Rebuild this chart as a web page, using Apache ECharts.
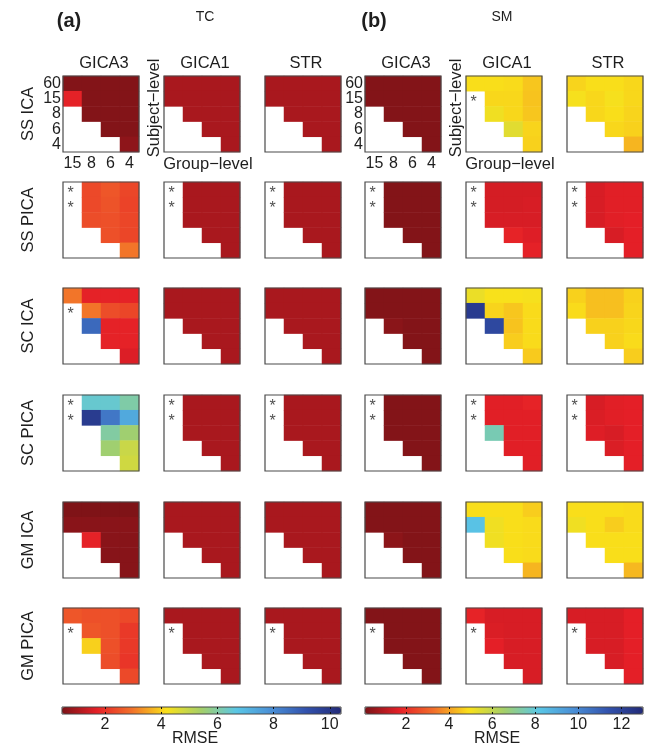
<!DOCTYPE html>
<html><head><meta charset="utf-8">
<script src="https://cdn.jsdelivr.net/npm/echarts@6/dist/echarts.min.js"></script>
<style>html,body{margin:0;padding:0;background:#fff}#c{width:647px;height:748px}</style>
</head><body><div id="c"></div>
<script>
// ---- categories / labels ----
const GROUP_LEVELS = ['15','8','6','4'];
const SUBJECT_LEVELS = ['60','15','8','6','4'];
const ROW_NAMES = ['SS ICA','SS PICA','SC ICA','SC PICA','GM ICA','GM PICA'];
const METHODS = ['GICA3','GICA1','STR'];
const TC_TICKS = [2,4,6,8,10];
const SM_TICKS = [2,4,6,8,10,12];
const TC_RANGE = [0.47, 10.4];
const SM_RANGE = [0.1, 13];
const _ = null, S = '*';   // _ : no cell, S : failed run (asterisk)

// ---- (a) TC RMSE values: rows = subject-level 60,15,8,6,4 ; cols = group-level 15,8,6,4 ----
const TC_SSICA_GICA3 = [[0.55,0.55,0.55,0.55],[1.75,0.55,0.55,0.55],[_,0.55,0.55,0.55],[_,_,0.55,0.55],[_,_,_,0.68]];
const TC_SSICA_GICA1 = [[1.0,1.0,1.0,1.0],[1.0,1.0,1.0,1.0],[_,1.0,1.0,1.0],[_,_,1.0,1.0],[_,_,_,1.0]];
const TC_SSICA_STR   = [[1.0,1.0,1.0,1.0],[1.0,1.0,1.0,1.0],[_,1.0,1.0,1.0],[_,_,1.0,1.0],[_,_,_,1.0]];
const TC_SSPICA_GICA3 = [[S,2.35,2.55,2.3],[S,2.35,2.5,2.25],[_,2.4,2.45,2.3],[_,_,2.45,2.3],[_,_,_,3.0]];
const TC_SSPICA_GICA1 = [[S,1.0,1.0,1.0],[S,1.0,1.0,1.0],[_,1.0,1.0,1.0],[_,_,1.0,1.0],[_,_,_,1.0]];
const TC_SSPICA_STR   = [[S,1.0,1.0,1.0],[S,1.0,1.0,1.0],[_,1.0,1.0,1.0],[_,_,1.0,1.0],[_,_,_,1.0]];
const TC_SCICA_GICA3 = [[3.0,1.75,1.75,1.75],[S,3.0,2.4,2.3],[_,8.7,1.75,1.75],[_,_,1.75,1.75],[_,_,_,1.6]];
const TC_SCICA_GICA1 = [[1.0,1.0,1.0,1.0],[1.0,1.0,1.0,1.0],[_,1.0,1.0,1.0],[_,_,1.0,1.0],[_,_,_,1.0]];
const TC_SCICA_STR   = [[1.0,1.0,1.0,1.0],[1.0,1.0,1.0,1.0],[_,1.0,1.0,1.0],[_,_,1.0,1.0],[_,_,_,1.0]];
const TC_SCPICA_GICA3 = [[S,6.45,6.45,6.05],[S,9.85,8.4,7.35],[_,_,6.0,5.5],[_,_,5.5,4.9],[_,_,_,4.8]];
const TC_SCPICA_GICA1 = [[S,1.0,1.0,1.0],[S,1.0,1.0,1.0],[_,1.0,1.0,1.0],[_,_,1.0,1.0],[_,_,_,1.0]];
const TC_SCPICA_STR   = [[S,1.0,1.0,1.0],[S,1.0,1.0,1.0],[_,1.0,1.0,1.0],[_,_,1.0,1.0],[_,_,_,1.0]];
const TC_GMICA_GICA3 = [[0.5,0.5,0.5,0.5],[0.62,0.62,0.62,0.62],[_,1.75,0.62,0.6],[_,_,0.6,0.6],[_,_,_,0.6]];
const TC_GMICA_GICA1 = [[1.0,1.0,1.0,1.0],[1.0,1.0,1.0,1.0],[_,1.0,1.0,1.0],[_,_,1.0,1.0],[_,_,_,1.0]];
const TC_GMICA_STR   = [[1.0,1.0,1.0,1.0],[1.0,1.0,1.0,1.0],[_,1.0,1.0,1.0],[_,_,1.0,1.0],[_,_,_,1.0]];
const TC_GMPICA_GICA3 = [[2.55,2.45,2.45,2.35],[S,2.55,2.45,2.1],[_,4.0,2.45,2.1],[_,_,2.4,2.05],[_,_,_,2.35]];
const TC_GMPICA_GICA1 = [[1.0,1.0,1.0,1.0],[S,1.0,1.0,1.0],[_,1.0,1.0,1.0],[_,_,1.0,1.0],[_,_,_,1.0]];
const TC_GMPICA_STR   = [[1.0,1.0,1.0,1.0],[S,1.0,1.0,1.0],[_,1.0,1.0,1.0],[_,_,1.0,1.0],[_,_,_,1.0]];

// ---- (b) SM RMSE values ----
const SM_SSICA_GICA3 = [[0.2,0.2,0.2,0.2],[0.2,0.2,0.2,0.2],[_,0.2,0.2,0.2],[_,_,0.2,0.2],[_,_,_,0.2]];
const SM_SSICA_GICA1 = [[4.9,4.9,4.85,4.55],[S,4.8,4.8,4.5],[_,5.1,4.8,4.55],[_,_,5.4,4.75],[_,_,_,4.7]];
const SM_SSICA_STR   = [[4.75,4.9,4.9,4.8],[5.0,4.8,5.0,4.8],[_,4.8,4.9,4.75],[_,_,4.8,4.7],[_,_,_,4.3]];
const SM_SSPICA_GICA3 = [[S,0.2,0.2,0.2],[S,0.2,0.2,0.2],[_,0.2,0.2,0.2],[_,_,0.2,0.2],[_,_,_,0.2]];
const SM_SSPICA_GICA1 = [[S,1.45,1.45,1.45],[S,1.45,1.45,1.5],[_,1.5,1.5,1.5],[_,_,1.8,1.6],[_,_,_,1.75]];
const SM_SSPICA_STR   = [[S,1.5,1.65,1.65],[S,1.5,1.65,1.65],[_,1.5,1.65,1.7],[_,_,1.5,1.7],[_,_,_,1.7]];
const SM_SCICA_GICA3 = [[0.2,0.2,0.2,0.2],[0.2,0.2,0.2,0.2],[_,0.32,0.2,0.2],[_,_,0.2,0.2],[_,_,_,0.2]];
const SM_SCICA_GICA1 = [[5.2,4.95,4.95,5.0],[12.3,4.75,4.55,4.85],[_,11.8,4.5,4.85],[_,_,4.65,4.85],[_,_,_,4.6]];
const SM_SCICA_STR   = [[4.7,4.45,4.45,4.7],[4.85,4.45,4.45,4.75],[_,4.7,4.7,4.8],[_,_,4.7,4.85],[_,_,_,4.65]];
const SM_SCPICA_GICA3 = [[S,0.2,0.2,0.2],[S,0.2,0.2,0.2],[_,0.2,0.2,0.2],[_,_,0.2,0.2],[_,_,_,0.2]];
const SM_SCPICA_GICA1 = [[S,1.65,1.65,1.8],[S,1.65,1.65,1.65],[_,7.5,1.65,1.65],[_,_,1.65,1.65],[_,_,_,1.65]];
const SM_SCPICA_STR   = [[S,1.5,1.65,1.7],[S,1.55,1.65,1.7],[_,1.6,1.5,1.7],[_,_,1.55,1.7],[_,_,_,1.7]];
const SM_GMICA_GICA3 = [[0.2,0.2,0.2,0.2],[0.2,0.2,0.2,0.2],[_,0.35,0.2,0.2],[_,_,0.2,0.2],[_,_,_,0.2]];
const SM_GMICA_GICA1 = [[4.9,4.9,4.9,4.65],[8.3,5.1,4.9,4.85],[_,5.1,4.9,4.85],[_,_,4.9,4.85],[_,_,_,4.3]];
const SM_GMICA_STR   = [[4.9,4.9,4.9,4.85],[5.1,4.9,4.65,4.85],[_,4.9,4.9,4.9],[_,_,4.9,4.9],[_,_,_,4.35]];
const SM_GMPICA_GICA3 = [[0.2,0.2,0.2,0.2],[S,0.2,0.2,0.2],[_,0.2,0.2,0.2],[_,_,0.2,0.2],[_,_,_,0.2]];
const SM_GMPICA_GICA1 = [[1.8,1.5,1.5,1.5],[S,1.55,1.5,1.5],[_,1.7,1.5,1.5],[_,_,1.5,1.5],[_,_,_,1.5]];
const SM_GMPICA_STR   = [[1.5,1.5,1.5,1.7],[S,1.5,1.5,1.7],[_,1.5,1.5,1.7],[_,_,1.5,1.7],[_,_,_,1.7]];

const TC_PANELS = [
  [TC_SSICA_GICA3, TC_SSICA_GICA1, TC_SSICA_STR],
  [TC_SSPICA_GICA3, TC_SSPICA_GICA1, TC_SSPICA_STR],
  [TC_SCICA_GICA3, TC_SCICA_GICA1, TC_SCICA_STR],
  [TC_SCPICA_GICA3, TC_SCPICA_GICA1, TC_SCPICA_STR],
  [TC_GMICA_GICA3, TC_GMICA_GICA1, TC_GMICA_STR],
  [TC_GMPICA_GICA3, TC_GMPICA_GICA1, TC_GMPICA_STR]
];
const SM_PANELS = [
  [SM_SSICA_GICA3, SM_SSICA_GICA1, SM_SSICA_STR],
  [SM_SSPICA_GICA3, SM_SSPICA_GICA1, SM_SSPICA_STR],
  [SM_SCICA_GICA3, SM_SCICA_GICA1, SM_SCICA_STR],
  [SM_SCPICA_GICA3, SM_SCPICA_GICA1, SM_SCPICA_STR],
  [SM_GMICA_GICA3, SM_GMICA_GICA1, SM_GMICA_STR],
  [SM_GMPICA_GICA3, SM_GMPICA_GICA1, SM_GMPICA_STR]
];

// ---- layout / style ----
const FONT = "'Liberation Sans', Arial, Helvetica, sans-serif";
const TXT = '#1e1e1e';
const PANEL_LEFT = [63,164,265,365,466,567];
const PANEL_TOP = [76,182,288,395,502,608];
const PANEL_SIZE = 76;
const CMAP = ['#7c1317','#e51f27','#f2712a','#f9e11a','#a4cf6a','#5ac7e6','#4a8fd6','#3252ad','#222a78'];

const grid = [], xAxis = [], yAxis = [], series = [], starSeries = [];
const tcIdx = [], smIdx = [];
for (let r = 0; r < 6; r++) {
  for (let c = 0; c < 6; c++) {
    const g = grid.length;
    const panel = c < 3 ? TC_PANELS[r][c] : SM_PANELS[r][c - 3];
    const showLab = r === 0 && (c === 0 || c === 3);
    grid.push({left: PANEL_LEFT[c], top: PANEL_TOP[r], width: PANEL_SIZE, height: PANEL_SIZE,
      show: true, borderColor: '#4a4a4a', borderWidth: 1.2, backgroundColor: 'transparent', z: 10});
    xAxis.push({type: 'category', gridIndex: g, data: GROUP_LEVELS, position: 'bottom',
      axisLine: {show: false}, axisTick: {show: false}, splitLine: {show: false},
      axisLabel: {show: showLab, interval: 0, hideOverlap: false, fontSize: 16, fontFamily: FONT, color: TXT, margin: 4}});
    yAxis.push({type: 'category', gridIndex: g, data: SUBJECT_LEVELS, inverse: true,
      axisLine: {show: false}, axisTick: {show: false}, splitLine: {show: false},
      axisLabel: {show: showLab, interval: 0, hideOverlap: false, fontSize: 16, lineHeight: 15, fontFamily: FONT, color: TXT, margin: 2}});
    const cells = [], stars = [];
    for (let yi = 0; yi < SUBJECT_LEVELS.length; yi++) {
      for (let xi = 0; xi < GROUP_LEVELS.length; xi++) {
        const v = panel[yi][xi];
        if (typeof v === 'number') cells.push([xi, yi, v]);
        else if (v === S) stars.push([xi, yi]);
      }
    }
    (c < 3 ? tcIdx : smIdx).push(series.length);
    series.push({type: 'heatmap', xAxisIndex: g, yAxisIndex: g, data: cells, silent: true,
      emphasis: {disabled: true}, itemStyle: {borderWidth: 0}, progressive: 0});
    if (stars.length) starSeries.push({type: 'scatter', xAxisIndex: g, yAxisIndex: g, data: stars,
      silent: true, symbol: 'circle', symbolSize: 1, itemStyle: {color: 'rgba(0,0,0,0)'}, z: 5,
      label: {show: true, formatter: '*', position: 'inside', fontSize: 16, fontFamily: FONT,
        color: '#222', offset: [-2, 4]}});
  }
}
starSeries.forEach(s => series.push(s));

// ---- colorbars (ticks/frames drawn by axes on top of the visualMap bars) ----
const CB = [
  {left: 62, width: 279, range: TC_RANGE, ticks: TC_TICKS},
  {left: 365, width: 278, range: SM_RANGE, ticks: SM_TICKS}
];
const CB_TOP = 707, CB_H = 7;
CB.forEach(cb => {
  const g = grid.length;
  grid.push({left: cb.left, top: CB_TOP, width: cb.width, height: CB_H, show: true,
    borderColor: '#444', borderWidth: 1, backgroundColor: 'transparent', z: 10});
  xAxis.push({type: 'value', gridIndex: g, min: cb.range[0], max: cb.range[1], position: 'bottom',
    axisLine: {show: false}, splitLine: {show: false}, z: 11,
    axisTick: {show: true, inside: true, length: 2, customValues: cb.ticks, lineStyle: {color: '#111'}},
    axisLabel: {customValues: cb.ticks, fontSize: 16, fontFamily: FONT, color: TXT, margin: 3}});
  xAxis.push({type: 'value', gridIndex: g, min: cb.range[0], max: cb.range[1], position: 'top',
    axisLine: {show: false}, splitLine: {show: false}, z: 11,
    axisTick: {show: true, inside: true, length: 2, customValues: cb.ticks, lineStyle: {color: '#111'}},
    axisLabel: {show: false}});
  yAxis.push({type: 'value', gridIndex: g, show: false});
});

const visualMap = [
  {type: 'continuous', seriesIndex: tcIdx, min: TC_RANGE[0], max: TC_RANGE[1], orient: 'horizontal',
   left: CB[0].left, top: CB_TOP, itemWidth: CB_H, itemHeight: CB[0].width, calculable: false,
   hoverLink: false, padding: 0, inRange: {color: CMAP}},
  {type: 'continuous', seriesIndex: smIdx, min: SM_RANGE[0], max: SM_RANGE[1], orient: 'horizontal',
   left: CB[1].left, top: CB_TOP, itemWidth: CB_H, itemHeight: CB[1].width, calculable: false,
   hoverLink: false, padding: 0, inRange: {color: CMAP}}
];

// ---- text ----
function txt(text, x, y, size, opts) {
  opts = opts || {};
  return {type: 'text', x: x, y: y, rotation: opts.rot || 0, silent: true, z: 20,
    style: {text: text, fontSize: size, fontFamily: FONT, fontWeight: opts.bold ? 'bold' : 'normal',
      fill: TXT, align: 'center', verticalAlign: 'middle'}};
}
const graphic = [
  txt('(a)', 69, 21, 20, {bold: true}), txt('TC', 205, 17, 14),
  txt('(b)', 374, 21, 20, {bold: true}), txt('SM', 502, 17, 14)
];
for (let c = 0; c < 6; c++) graphic.push(txt(METHODS[c % 3], PANEL_LEFT[c] + PANEL_SIZE / 2 + 3, 63, 16.5));
for (let r = 0; r < 6; r++) graphic.push(txt(ROW_NAMES[r], 28.5, PANEL_TOP[r] + PANEL_SIZE / 2, 16.5, {rot: Math.PI / 2}));
[1, 4].forEach(c => {
  graphic.push(txt('Subject\u2212level', PANEL_LEFT[c] - 10, 108, 16.5, {rot: Math.PI / 2}));
  graphic.push(txt('Group\u2212level', PANEL_LEFT[c] + 44, 164, 16.5));
});
graphic.push(txt('RMSE', CB[0].left + 133, 739, 16));
graphic.push(txt('RMSE', CB[1].left + 132, 739, 16));

const chart = echarts.init(document.getElementById('c'), null, {renderer: 'canvas'});
chart.setOption({
  animation: false, backgroundColor: '#fff',
  grid, xAxis, yAxis, visualMap, series, graphic
});
</script></body></html>
